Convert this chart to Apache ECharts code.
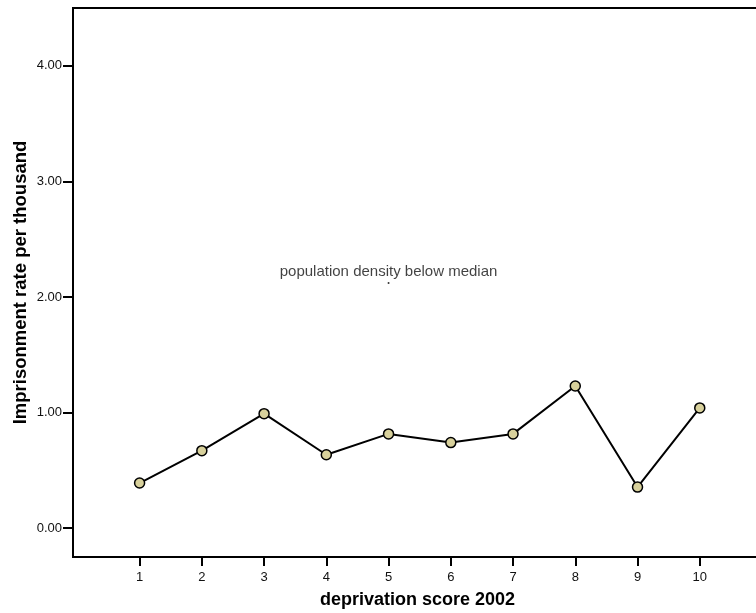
<!DOCTYPE html>
<html>
<head>
<meta charset="utf-8">
<script src="https://cdn.jsdelivr.net/npm/echarts@6/dist/echarts.min.js"></script>
<style>
html,body{margin:0;padding:0;background:#fff;}
#chart{width:756px;height:613px;}
</style>
</head>
<body>
<div id="chart"></div>
<script>
const categories = [1, 2, 3, 4, 5, 6, 7, 8, 9, 10];
const rates = [0.39, 0.67, 0.99, 0.635, 0.815, 0.74, 0.815, 1.23, 0.355, 1.04];
const yTicks = [0, 1, 2, 3, 4];
const annotationPoint = [5, 2.12];
const annotationText = 'population density below median';
const xTitle = 'deprivation score 2002';
const yTitle = 'Imprisonment rate per thousand';

const chart = echarts.init(document.getElementById('chart'), null, {renderer: 'canvas'});
const font = '"Liberation Sans", Arial, sans-serif';
chart.setOption({
  animation: false,
  backgroundColor: '#fff',
  grid: {
    left: 73, top: 8, right: -6, bottom: 56,
    outerBoundsMode: 'none', containLabel: false,
    show: true, borderColor: '#000', borderWidth: 2, backgroundColor: 'transparent'
  },
  xAxis: {
    type: 'value',
    min: -0.07,
    max: 11,
    name: xTitle,
    nameLocation: 'middle',
    nameGap: 34,
    nameTextStyle: {fontFamily: font, fontSize: 18, fontWeight: 'bold', color: '#000'},
    axisLine: {show: true, onZero: false, lineStyle: {color: '#000', width: 2}},
    axisTick: {show: true, length: 9, lineStyle: {color: '#000', width: 2}, customValues: categories},
    axisLabel: {customValues: categories, fontFamily: font, fontSize: 13, color: '#111', margin: 14},
    splitLine: {show: false}
  },
  yAxis: {
    type: 'value',
    min: -0.25,
    max: 4.5,
    name: yTitle,
    nameLocation: 'middle',
    nameRotate: 90,
    nameGap: 43,
    nameMoveOverlap: false,
    nameTextStyle: {fontFamily: font, fontSize: 18.5, fontWeight: 'bold', color: '#000'},
    axisLine: {show: true, onZero: false, lineStyle: {color: '#000', width: 2}},
    axisTick: {show: true, length: 10, lineStyle: {color: '#000', width: 2}, customValues: yTicks},
    axisLabel: {customValues: yTicks, fontFamily: font, fontSize: 13, color: '#111', margin: 11,
      formatter: v => v.toFixed(2)},
    splitLine: {show: false}
  },
  series: [
    {
      type: 'line',
      data: categories.map((c, i) => [c, rates[i]]),
      symbol: 'circle',
      symbolSize: 10,
      lineStyle: {color: '#000', width: 2},
      itemStyle: {color: '#d8d19c', borderColor: '#000', borderWidth: 1.5},
      z: 3
    },
    {
      type: 'scatter',
      data: [annotationPoint],
      symbol: 'circle',
      symbolSize: 2,
      itemStyle: {color: '#000'},
      label: {
        show: true, position: 'top', distance: 3,
        formatter: annotationText,
        fontFamily: font, fontSize: 15, color: '#111'
      }
    }
  ]
});
</script>
</body>
</html>
